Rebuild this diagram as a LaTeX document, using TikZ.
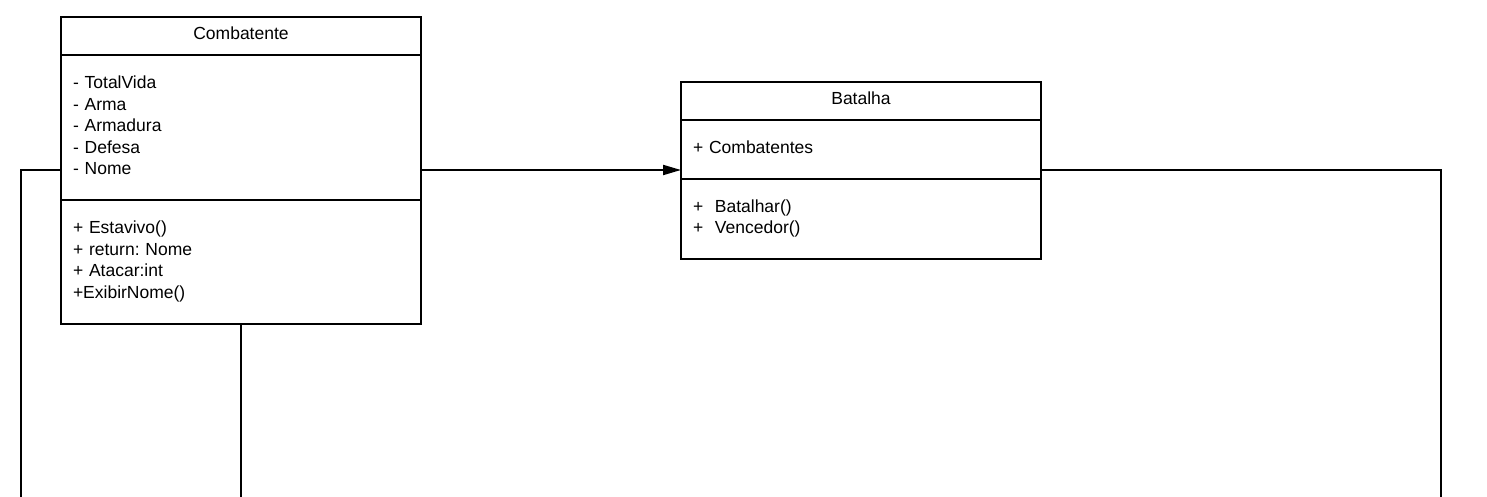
\documentclass[tikz,border=0pt]{standalone}
\usepackage{fontspec}
\setmainfont{Liberation Sans}
\frenchspacing
\usetikzlibrary{arrows.meta,positioning}

\begin{document}
\begin{tikzpicture}[x=1pt, y=-1pt, line width=2pt,
        font=\fontsize{17.5}{21.6}\selectfont,
        header/.style={draw, rectangle, minimum width=360pt, inner sep=0pt, outer sep=0pt, text depth=6.5pt},
        compart/.style={draw, rectangle, text width=336pt, inner xsep=12pt, inner ysep=0pt, outer sep=0pt, align=left},
        assoc/.style={-{Triangle[length=18pt, width=10pt]}}]
        \useasboundingbox (0,0) rectangle (1487,497);

        % Combatente
        \node[header, minimum height=38pt] (combHead) at (241,36) {Combatente};
        \node[compart, minimum height=145pt, below=0pt of combHead] (combAttr)
            {- TotalVida\\- Arma\\- Armadura\\- Defesa\\- Nome\vspace{4pt}};
        \node[compart, minimum height=124pt, below=0pt of combAttr] (combMeth)
            {+ Estavivo()\\+ return: Nome\\+ Atacar:int\\+ExibirNome()\vspace{1pt}};

        % Batalha
        \node[header, minimum height=38pt] (batHead) at (861,101) {Batalha};
        \node[compart, minimum height=59pt, below=0pt of batHead] (batAttr)
            {+ Combatentes\vspace{4pt}};
        \node[compart, minimum height=80pt, below=0pt of batAttr] (batMeth)
            {+\ \ Batalhar()\\+\ \ Vencedor()\vspace{1pt}};

        \coordinate (combEndL) at (21,497);
        \coordinate (combEndB) at (241,497);
        \coordinate (batEnd) at (1441,497);

        \draw[assoc] ([yshift=-42.5pt]combAttr.east) -- ([yshift=-42.5pt]combAttr.east -| batAttr.west);
        \draw ([yshift=-42.5pt]combAttr.west) -| (combEndL);
        \draw (combMeth.south) -- (combEndB);
        \draw ([yshift=-20.5pt]batAttr.east) -| (batEnd);
\end{tikzpicture}
\end{document}
